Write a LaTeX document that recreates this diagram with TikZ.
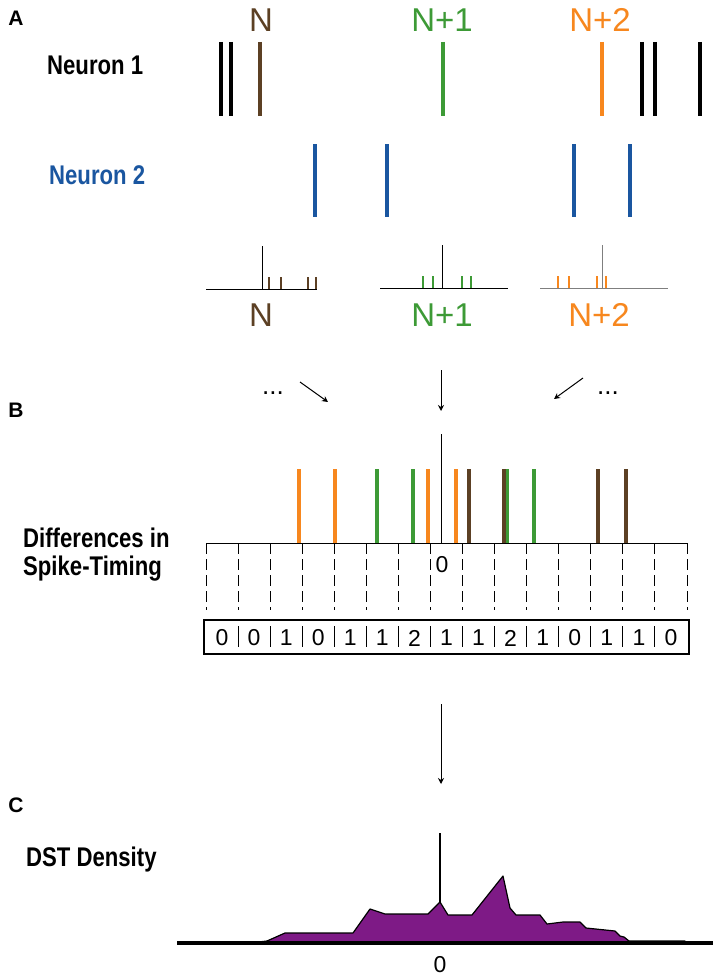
\documentclass[tikz,border=0pt]{standalone}
\usepackage{fontspec}
\setmainfont{Liberation Sans}
\newfontfamily\condfont[FakeStretch=0.82]{Liberation Sans}
\usetikzlibrary{arrows.meta}
\definecolor{cBrown}{HTML}{5C4024}
\definecolor{cGreen}{HTML}{3D9A36}
\definecolor{cOrange}{HTML}{F7871E}
\definecolor{cBlue}{HTML}{1A56A0}
\definecolor{cPurple}{HTML}{7E1A86}
\definecolor{cAxis}{HTML}{7F7F7F}
\tikzset{
  spike/.style   = {draw=#1, line width=3.5pt},
  spike/.default = black,
  bspike/.style  = {draw=#1, line width=4pt},
  tck/.style     = {draw=#1, line width=1.8pt},
  axis/.style    = {draw=#1, line width=1pt},
  axis/.default  = black,
  bin/.style     = {line width=1pt, dash pattern=on 11pt off 5pt},
  lbl/.style     = {text=#1, inner sep=0pt, font=\fontsize{33}{36}\selectfont},
  side/.style    = {inner sep=0pt, align=left, anchor=west,
                    font=\condfont\bfseries\fontsize{27}{28}\selectfont},
  panel/.style   = {inner sep=0pt, font=\bfseries\fontsize{21}{23}\selectfont},
  num/.style     = {inner sep=0pt, font=\fontsize{23}{25}\selectfont},
  dots/.style    = {inner sep=0pt, font=\fontsize{26}{28}\selectfont},
  arr/.style     = {-{Stealth[length=6pt, width=6pt]}, line width=1pt},
}

\begin{document}
\begin{tikzpicture}[x=1pt, y=-1pt]
  \fill[white] (0,0) rectangle (720,979);

  \node[panel] (pA) at (16,18) {A};
  \node[panel] (pB) at (16,410) {B};
  \node[panel] (pC) at (16,805) {C};

  \node[lbl=cBrown] (tN) at (261,20) {N};
  \node[lbl=cGreen] (tN1) at (442,20) {N+1};
  \node[lbl=cOrange] (tN2) at (600,20) {N+2};

  \node[side] (n1) at (47,65) {Neuron 1};
  \node[side, text=cBlue] (n2) at (49,175) {Neuron 2};

  \foreach \x/\c in {221/black,231/black,260/cBrown,443/cGreen,602/cOrange,642/black,655/black,700/black}
    \draw[spike=\c] (\x,42) -- (\x,116);
  \foreach \x in {315,387,574,630}
    \draw[spike=cBlue] (\x,144) -- (\x,217);

  \draw[axis] (206,289) -- (317,289) (262,246) -- (262,289);
  \foreach \x in {269,281,308,316}
    \draw[tck=cBrown] (\x,277) -- (\x,289);
  \draw[axis] (380,288) -- (508,288) (442,245) -- (442,288);
  \foreach \x in {423,433,462,471}
    \draw[tck=cGreen] (\x,276) -- (\x,288);
  \draw[axis=cAxis] (540,288) -- (668,288) (602,245) -- (602,288);
  \foreach \x in {558,569,597,606}
    \draw[tck=cOrange] (\x,276) -- (\x,288);

  \node[lbl=cBrown] (hN) at (261,315) {N};
  \node[lbl=cGreen] (hN1) at (442,315) {N+1};
  \node[lbl=cOrange] (hN2) at (599,315) {N+2};

  \node[dots] (dl) at (273,393) {...};
  \node[dots] (dr) at (608,393) {...};
  \coordinate (al0) at (300,382);
  \coordinate (al1) at (328,402);
  \coordinate (am0) at (441,370);
  \coordinate (am1) at (441,411);
  \coordinate (ar0) at (583,378);
  \coordinate (ar1) at (554,399);
  \draw[arr] (al0) -- (al1);
  \draw[arr] (am0) -- (am1);
  \draw[arr] (ar0) -- (ar1);

  \draw[axis] (441,434) -- (441,543);
  \foreach \x/\c in {299/cOrange,335/cOrange,428/cOrange,456/cOrange,377/cGreen,413/cGreen,
                     507/cGreen,534/cGreen,469/cBrown,504/cBrown,598/cBrown,626/cBrown}
    \draw[bspike=\c] (\x,469) -- (\x,543);
  \draw[axis] (206,543) -- (687,543);
  \foreach \i in {0,...,15}
    \draw[bin] ({206+32.067*\i},543) -- ({206+32.067*\i},610);
  \node[num] (zB) at (442,565) {0};
  \node[side] (dif) at (23,555) {Differences in\\Spike-Timing};

  \node[draw, line width=2.5pt, minimum width=485pt, minimum height=34pt] (counts) at (446.5,637) {};
  \foreach \i in {1,...,14}
    \draw[axis] ({206+32.067*\i},626) -- ({206+32.067*\i},647);
  \foreach \v [count=\i] in {0,0,1,0,1,1,2,1,1,2,1,0,1,1,0}
    \node[num] (c\i) at ({206+32.067*(\i-0.5)},638) {\v};

  \coordinate (ad0) at (441,704);
  \coordinate (ad1) at (441,784);
  \draw[arr] (ad0) -- (ad1);

  \node[side] (dst) at (26,860) {DST Density};
  \draw[fill=cPurple, line width=1.2pt, line join=round]
    (250,943) -- (267,941) -- (285,933) -- (353,933) -- (370,909) -- (385,914) -- (428,914)
    -- (440,902) -- (448,915) -- (472,915) -- (503,876) -- (510,908) -- (516,915) -- (540,915)
    -- (547,924) -- (563,922) -- (580,922) -- (586,928) -- (615,931) -- (620,936) -- (624,937)
    -- (629,941) -- (685,941) -- (685,943) -- cycle;
  \draw[line width=4pt] (177,943) -- (713,943);
  \draw[line width=1.3pt] (440,833) -- (440,902);
  \node[num] (zC) at (440,965) {0};
\end{tikzpicture}
\end{document}
